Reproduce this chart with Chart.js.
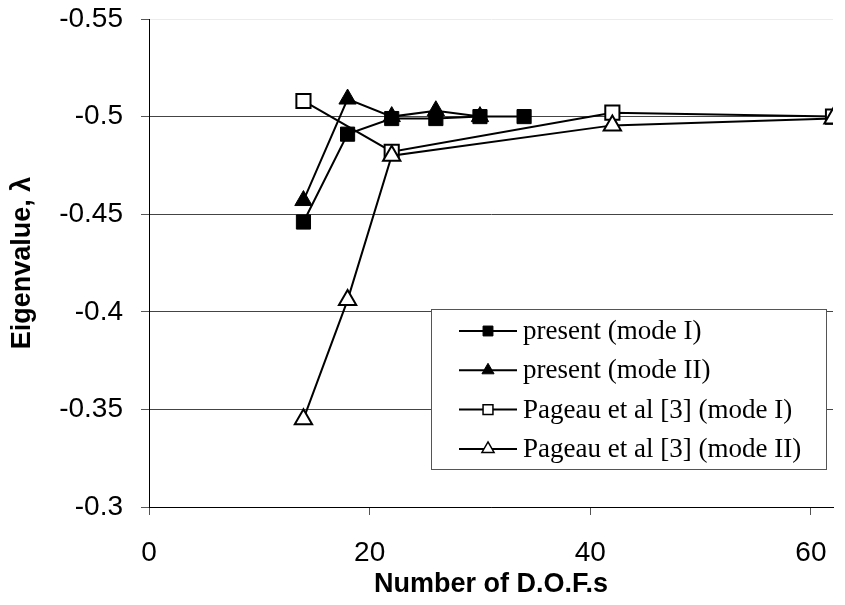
<!DOCTYPE html>
<html><head><meta charset="utf-8">
<script src="https://cdn.jsdelivr.net/npm/chart.js@4/dist/chart.umd.min.js"></script>
<style>html,body{margin:0;padding:0;background:#fff}#wrap{width:845px;height:605px}</style>
</head><body><div id="wrap"><canvas id="c" width="845" height="605"></canvas></div>
<script>
const seriesNames = ['present (mode I)', 'present (mode II)', 'Pageau et al [3] (mode I)', 'Pageau et al [3] (mode II)'];
const dofPresentI = [14, 18, 22, 26, 30, 34];
const lamPresentI = [-0.446, -0.491, -0.499, -0.499, -0.500, -0.500];
const dofPresentII = [14, 18, 22, 26, 30];
const lamPresentII = [-0.457, -0.509, -0.500, -0.503, -0.500];
const dofPageauI = [14, 22, 42, 62];
const lamPageauI = [-0.508, -0.482, -0.502, -0.500];
const dofPageauII = [14, 18, 22, 42, 62];
const lamPageauII = [-0.345, -0.406, -0.480, -0.4955, -0.499];
const xTicks = [0, 20, 40, 60];
const yTicks = [-0.55, -0.5, -0.45, -0.4, -0.35, -0.3];
const xTitle = 'Number of D.O.F.s';
const yTitle = 'Eigenvalue, \u03bb';

const SANS = "'Liberation Sans', Arial, sans-serif";
const SERIF = "'Liberation Serif', 'Times New Roman', serif";
const mk = (xs, ys) => xs.map((x, i) => ({x: x, y: ys[i]}));

function drawMarker(ctx, style, x, y, r, fill, bw) {
  ctx.beginPath();
  if (style === 'rect') {
    const s = Math.SQRT1_2 * r;
    ctx.rect(x - s, y - s, 2 * s, 2 * s);
  } else {
    const a1 = 2 * Math.PI / 3;
    ctx.moveTo(x, y - r);
    ctx.lineTo(x + Math.sin(a1) * r, y - Math.cos(a1) * r);
    ctx.lineTo(x + Math.sin(2 * a1) * r, y - Math.cos(2 * a1) * r);
    ctx.closePath();
  }
  ctx.fillStyle = fill; ctx.fill();
  ctx.strokeStyle = '#000'; ctx.lineWidth = bw; ctx.stroke();
}

const legendPlugin = {
  id: 'boxLegend',
  afterDatasetsDraw(chart) {
    const ca = chart.chartArea, ctx = chart.ctx;
    const x0 = ca.left + 282, y0 = ca.top + 290, w = 395, h = 160;
    ctx.save();
    ctx.fillStyle = '#fff'; ctx.fillRect(x0, y0, w, h);
    ctx.strokeStyle = '#555'; ctx.lineWidth = 1; ctx.strokeRect(x0 + 0.5, y0 + 0.5, w, h);
    chart.data.datasets.forEach((ds, i) => {
      const cy = y0 + 22 + i * 39.3;
      ctx.strokeStyle = '#000'; ctx.lineWidth = 2;
      ctx.beginPath(); ctx.moveTo(x0 + 28, cy); ctx.lineTo(x0 + 86, cy); ctx.stroke();
      drawMarker(ctx, ds.pointStyle, x0 + 57, cy, ds.pointStyle === 'rect' ? 7 : 7, ds.pointBackgroundColor, ds.pointBackgroundColor === '#fff' ? 1.5 : 1);
      ctx.fillStyle = '#000'; ctx.font = '27px ' + SERIF; ctx.textBaseline = 'middle'; ctx.textAlign = 'left';
      ctx.fillText(ds.label, x0 + 92, cy + 1);
    });
    ctx.restore();
  }
};

function ds(i, xs, ys, style, fill, order) {
  const open = fill === '#fff';
  return {
    label: seriesNames[i], data: mk(xs, ys), showLine: true,
    borderColor: '#000', borderWidth: 2, pointStyle: style,
    pointRadius: style === 'rect' ? 10 : 10,
    pointBackgroundColor: fill, pointBorderColor: '#000', pointBorderWidth: open ? 2 : 1,
    order: order
  };
}

new Chart(document.getElementById('c'), {
  type: 'scatter',
  data: {datasets: [
    ds(0, dofPresentI, lamPresentI, 'rect', '#000', 4),
    ds(1, dofPresentII, lamPresentII, 'triangle', '#000', 3),
    ds(2, dofPageauI, lamPageauI, 'rect', '#fff', 2),
    ds(3, dofPageauII, lamPageauII, 'triangle', '#fff', 1)
  ]},
  options: {
    responsive: false, animation: false, devicePixelRatio: 1,
    layout: {padding: {top: 19, right: 8, left: 0, bottom: 0}},
    plugins: {legend: {display: false}, tooltip: {enabled: false}},
    scales: {
      x: {
        type: 'linear', min: 0, max: 62,
        afterBuildTicks: s => { s.ticks = xTicks.map(v => ({value: v})); },
        afterFit: s => { s.height = 98; s.paddingLeft = 0; s.paddingRight = 0; },
        ticks: {color: '#000', font: {family: SANS, size: 28}, padding: 21, maxRotation: 0, autoSkip: false},
        grid: {drawOnChartArea: false, drawTicks: true, tickLength: 8, tickColor: '#555'},
        border: {display: true, color: '#000', width: 1},
        title: {display: true, text: xTitle, color: '#000', font: {family: SANS, size: 27, weight: 'bold'}, padding: {top: 0, bottom: 4}}
      },
      y: {
        type: 'linear', min: -0.55, max: -0.3, reverse: true,
        afterBuildTicks: s => { s.ticks = yTicks.map(v => ({value: v})); },
        afterFit: s => { s.width = 149; s.paddingTop = 0; s.paddingBottom = 0; },
        ticks: {color: '#000', font: {family: SANS, size: 28}, padding: 18, autoSkip: false,
          callback: v => String(parseFloat(Number(v).toFixed(2)))},
        grid: {color: c => (c.tick && c.tick.value === -0.55) ? '#ececec' : '#444', lineWidth: 1, tickLength: 8, tickColor: '#555'},
        border: {display: true, color: '#000', width: 1},
        title: {display: true, text: yTitle, color: '#000', font: {family: SANS, size: 27, weight: 'bold'}, padding: {top: 6, bottom: 0}}
      }
    }
  },
  plugins: [legendPlugin]
});
</script>
</body></html>
